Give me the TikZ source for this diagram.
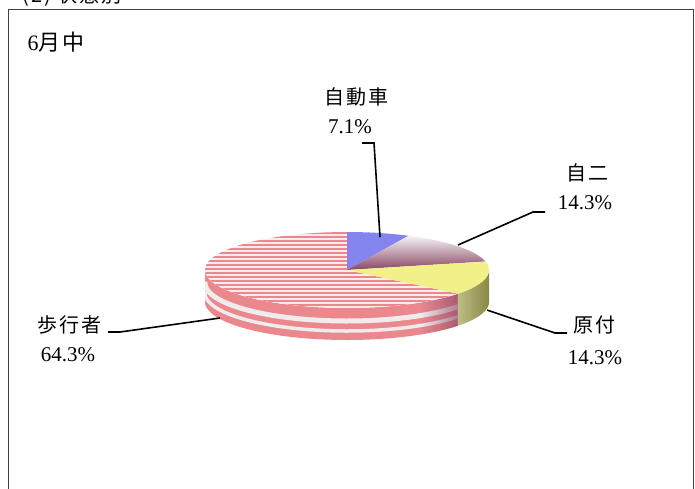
\documentclass[tikz,border=0pt]{standalone}
\usepackage{fontspec}
\setmainfont{Liberation Serif}
\newfontfamily\jpfont[LetterSpace=10]{Noto Sans CJK JP}
\usetikzlibrary{fadings}

\definecolor{carblue}{RGB}{132,132,238}
\definecolor{mopmauve}{RGB}{138,70,100}
\definecolor{genyellow}{RGB}{242,240,136}
\definecolor{genolive}{RGB}{160,160,82}
\definecolor{pedpink}{RGB}{234,136,142}
\definecolor{pedpale}{RGB}{250,236,238}
\definecolor{pedband}{RGB}{240,236,236}

\begin{document}
\begin{tikzpicture}
  [x=1pt,y=-1pt,
   rim/.style 2 args={domain=#1:#2,samples=60},
   lbl/.style={font=\fontsize{20}{22}\selectfont\jpfont,inner sep=0pt},
   pct/.style={font=\fontsize{21}{23}\selectfont,inner sep=0pt},
   leader/.style={draw=black,line width=1.6pt}]
  \useasboundingbox (0,0) rectangle (695,488);

  \node[lbl] (title) at (72,-4) {(2) 状態別};
  \draw[gray!50!black,line width=1pt] (8.5,9.5) rectangle (693.5,520);
  \node[lbl,font=\fontsize{22}{24}\selectfont] (month) at (56,42) {6{\jpfont 月\hspace{2pt}中}};

  \coordinate (C) at (347,270);

  % side
  \begin{scope}
    \clip plot[rim={-180}{-38.6}] ({347+142*cos(\x)},{270-38*sin(\x)})
      -- plot[rim={-38.6}{-180}] ({347+142*cos(\x)},{302-38*sin(\x)}) -- cycle;
    \fill[pedpink] (190,220) rectangle (470,350);
    \draw[pedband,line width=5pt] plot[rim={-182}{-36}] ({347+142*cos(\x)},{283-38*sin(\x)});
    \draw[pedband,line width=3.5pt] plot[rim={-182}{-36}] ({347+142*cos(\x)},{293-38*sin(\x)});
    \fill[mopmauve,path fading=west,opacity=.7] (420,220) rectangle (460,350);
  \end{scope}
  \shade[left color=genolive!70!white,right color=genolive!85!black]
    plot[rim={-38.6}{0}] ({347+142*cos(\x)},{270-38*sin(\x)})
    -- plot[rim={0}{-38.6}] ({347+142*cos(\x)},{302-38*sin(\x)}) -- cycle;

  % top
  \begin{scope}
    \clip (C) -- plot[rim={-38.6}{-270}] ({347+142*cos(\x)},{270-38*sin(\x)}) -- cycle;
    \fill[pedpale] (190,220) rectangle (500,320);
    \foreach \yy in {233,237,...,313}
      \draw[pedpink,line width=2pt] (190,\yy) -- (500,\yy);
  \end{scope}
  \fill[carblue] (C) -- plot[rim={90}{64.3}] ({347+142*cos(\x)},{270-38*sin(\x)}) -- cycle;
  \shade[top color=gray!8,bottom color=mopmauve]
    (C) -- plot[rim={64.3}{12.9}] ({347+142*cos(\x)},{270-38*sin(\x)}) -- cycle;
  \fill[genyellow] (C) -- plot[rim={12.9}{-38.6}] ({347+142*cos(\x)},{270-38*sin(\x)}) -- cycle;

  \node[lbl] (car) at (356,97) {自動車};
  \node[pct] (carpct) at (350,127) {7.1\%};
  \node[lbl] (moto) at (587,173) {自二};
  \node[pct] (motopct) at (585,203) {14.3\%};
  \node[lbl] (moped) at (594,325) {原付};
  \node[pct] (mopedpct) at (595,358) {14.3\%};
  \node[lbl] (ped) at (69,325) {歩行者};
  \node[pct] (pedpct) at (68,355) {64.3\%};

  \coordinate (car-s) at (362,143);
  \coordinate (car-k) at (374,143);
  \coordinate (car-p) at (380,237);
  \coordinate (moto-s) at (545,212);
  \coordinate (moto-k) at (533,212);
  \coordinate (moto-p) at (458,245);
  \coordinate (moped-s) at (567,333);
  \coordinate (moped-k) at (555,333);
  \coordinate (moped-p) at (487,310);
  \coordinate (ped-s) at (108,332);
  \coordinate (ped-k) at (120,332);
  \coordinate (ped-p) at (220,318);

  \draw[leader] (car-s) -- (car-k) -- (car-p);
  \draw[leader] (moto-s) -- (moto-k) -- (moto-p);
  \draw[leader] (moped-s) -- (moped-k) -- (moped-p);
  \draw[leader] (ped-s) -- (ped-k) -- (ped-p);
\end{tikzpicture}
\end{document}
